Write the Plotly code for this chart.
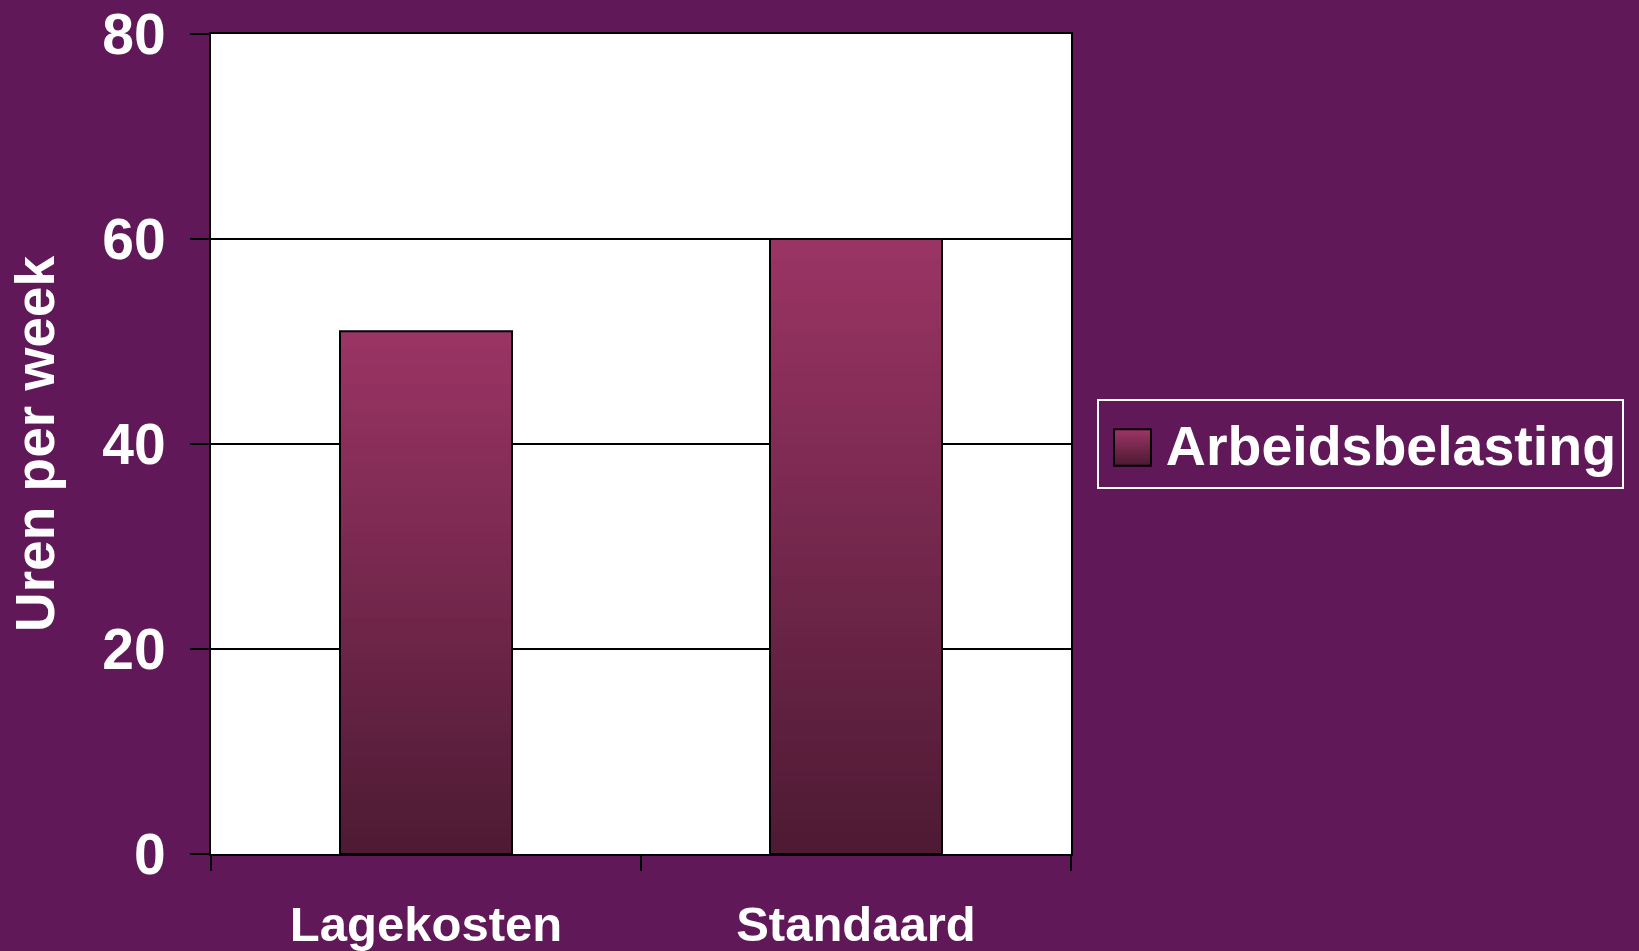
import plotly.graph_objects as go

categories = ["Lagekosten", "Standaard"]
values = [51, 60]
series_name = "Arbeidsbelasting"
y_ticks = [0, 20, 40, 60, 80]

BG = "#611858"
TOP = (154, 52, 100)
BOT = (78, 26, 52)
FONT = "Liberation Sans, Arial, sans-serif"

def mix(t):
    r = [round(BOT[k] + (TOP[k] - BOT[k]) * t) for k in range(3)]
    return "rgb(%d,%d,%d)" % tuple(r)

fig = go.Figure()

WIDTH = 0.4
# legend carrier (under everything; its own swatch is hidden)
fig.add_trace(go.Bar(
    x=categories, y=values, name=series_name, width=WIDTH,
    marker=dict(color="rgba(0,0,0,0)", line=dict(width=0)),
    showlegend=True, hoverinfo="skip",
))

N = 60
for i in range(N):
    t = i / (N - 1)
    fig.add_trace(go.Bar(
        x=categories,
        y=[v * (N - i) / N for v in values],
        base=[v * i / N for v in values],
        width=WIDTH,
        marker=dict(color=mix(t), line=dict(width=0)),
        showlegend=False, hoverinfo="skip",
    ))

# outline on top
fig.add_trace(go.Bar(
    x=categories, y=values, width=WIDTH,
    marker=dict(color="rgba(0,0,0,0)", line=dict(color="black", width=2)),
    showlegend=False, hoverinfo="skip",
))

# larger legend swatch (gradient square) drawn as paper shapes
SX0, SX1, SY0, SY1 = 1.05, 1.093, 0.4735, 0.518
M = 14
for i in range(M):
    fig.add_shape(type="rect", xref="paper", yref="paper", layer="above",
                  x0=SX0, x1=SX1,
                  y0=SY0 + (SY1 - SY0) * i / M, y1=SY0 + (SY1 - SY0) * (i + 1) / M + 0.001,
                  fillcolor=mix(i / (M - 1)), line=dict(width=0))
fig.add_shape(type="rect", xref="paper", yref="paper", layer="above",
              x0=SX0, x1=SX1, y0=SY0, y1=SY1,
              fillcolor="rgba(0,0,0,0)", line=dict(color="black", width=2))

fig.update_layout(
    width=1639, height=951,
    paper_bgcolor=BG, plot_bgcolor="white",
    barmode="overlay",
    margin=dict(l=211, r=568, t=34, b=97, autoexpand=False),
    font=dict(family=FONT, color="white", weight="bold"),
    legend=dict(
        x=1.03, y=0.5, xanchor="left", yanchor="middle",
        bgcolor="rgba(0,0,0,0)", bordercolor="white", borderwidth=2,
        itemwidth=57,
        font=dict(size=55.5, family=FONT, color="white", weight="bold"),
    ),
    xaxis=dict(
        type="category", range=[-0.5, 1.5],
        showline=True, linecolor="black", linewidth=2, mirror=True,
        ticks="outside", tickson="boundaries", ticklen=15, tickcolor="black", tickwidth=2,
        tickfont=dict(size=49, family=FONT, color="white", weight="bold"),
        ticklabelstandoff=26,
        showgrid=False, zeroline=False,
    ),
    yaxis=dict(
        range=[0, 80], tickvals=y_ticks,
        showline=True, linecolor="black", linewidth=2, mirror=True,
        ticks="outside", ticklen=19, tickcolor="black", tickwidth=2,
        tickfont=dict(size=57, family=FONT, color="white", weight="bold"),
        ticklabelstandoff=13,
        showgrid=True, gridcolor="black", gridwidth=1.5, zeroline=False,
        title=dict(text="Uren per week", standoff=30,
                   font=dict(size=55, family=FONT, color="white", weight="bold")),
    ),
)

fig.write_html("out.html", config={"displayModeBar": False},
               post_script="document.body.style.margin='0';document.body.style.overflow='hidden';")
